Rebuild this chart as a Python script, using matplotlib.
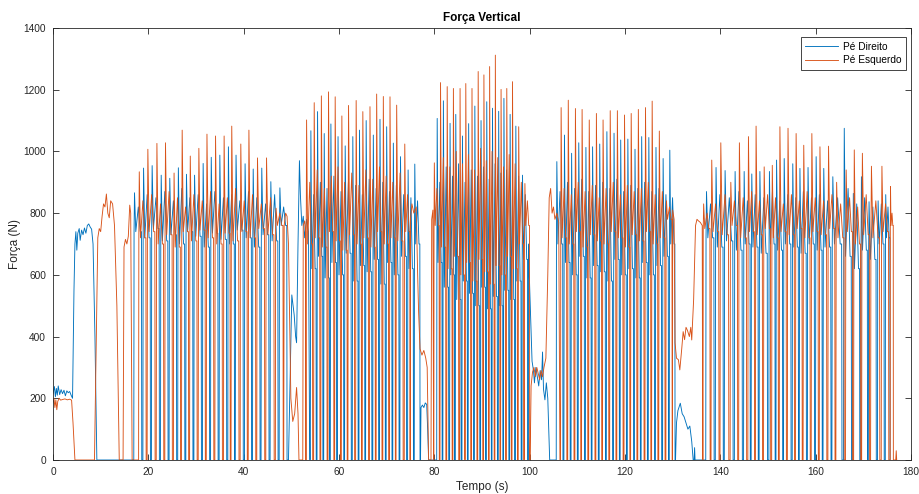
import matplotlib
matplotlib.use("Agg")
import matplotlib.pyplot as plt

plt.rcParams['font.family'] = ['Liberation Sans', 'DejaVu Sans']

# ---------------- data ----------------
x_ticks = [0, 20, 40, 60, 80, 100, 120, 140, 160, 180]
y_ticks = [0, 200, 400, 600, 800, 1000, 1200, 1400]
series_names = ["Pé Direito", "Pé Esquerdo"]

# --- Pé Esquerdo (orange): stride peak times, first peak, valley, second peak, bout end
esq_b1_t = [18.1, 19.9, 21.8, 23.6, 25.4, 27.1, 28.8, 30.6, 32.3, 34.1, 35.9, 37.5, 39.4, 41.1, 42.9, 44.8, 46.8]
esq_b1_p1 = [934, 1007, 1026, 1028, 930, 1069, 985, 1010, 1056, 1050, 1050, 1082, 1024, 1069, 979, 979, 816]
esq_b1_v = [720, 740, 700, 730, 690, 740, 710, 745, 720, 700, 735, 710, 740, 720, 750, 730, 760]
esq_b1_p2 = [840, 860, 830, 870, 850, 820, 860, 840, 870, 830, 850, 880, 840, 860, 830, 850, 800]

esq_b2_t = [53.2, 54.8, 56.3, 57.8, 59.2, 60.6, 62.0, 63.6, 65.0, 66.5, 67.9, 69.3, 70.7, 72.1, 73.8]
esq_b2_p1 = [1102, 1158, 1180, 1193, 1177, 1115, 1149, 1165, 1129, 1145, 1186, 1178, 1177, 1150, 1024]
esq_b2_v = [700, 720, 690, 740, 710, 680, 730, 700, 720, 690, 740, 700, 720, 710, 740]
esq_b2_p2 = [900, 940, 880, 920, 950, 900, 930, 890, 940, 910, 950, 920, 900, 930, 860]

esq_b3_t = [80.0, 81.3, 82.7, 84.0, 85.4, 86.6, 87.9, 89.2, 90.4, 91.6, 92.8, 94.0, 95.2, 96.4, 97.7, 99.0]
esq_b3_p1 = [963, 1223, 1210, 1204, 1204, 1220, 1204, 1259, 1248, 1275, 1312, 1201, 1204, 1226, 1080, 896]
esq_b3_v = [760, 690, 620, 660, 600, 640, 580, 650, 610, 570, 630, 600, 660, 620, 700, 760]
esq_b3_p2 = [880, 980, 950, 1000, 960, 990, 940, 1010, 970, 1000, 980, 950, 990, 960, 900, 840]

esq_b4_t = [106.6, 108.1, 109.6, 111.0, 112.5, 114.0, 115.4, 116.9, 118.4, 119.9, 121.3, 122.8, 124.3, 125.7, 127.2, 128.7]
esq_b4_p1 = [1142, 1166, 1139, 1136, 1102, 1123, 1102, 1132, 1132, 1118, 1123, 1136, 1142, 1163, 1066, 840]
esq_b4_v = [720, 700, 740, 690, 730, 710, 700, 740, 720, 690, 730, 710, 740, 700, 720, 780]
esq_b4_p2 = [880, 860, 900, 870, 890, 850, 880, 900, 860, 890, 870, 880, 900, 860, 870, 820]

esq_b5_t = [136.5, 138.2, 140.1, 142.2, 144.0, 145.9, 147.5, 149.2, 150.9, 152.5, 154.2, 155.9, 157.5, 159.2,
            160.9, 162.7, 164.4, 166.4, 168.1, 169.8, 171.7, 173.9, 175.7]
esq_b5_p1 = [830, 972, 1028, 900, 1028, 1048, 1082, 950, 955, 1080, 1075, 1058, 1020, 1058,
             1015, 1017, 900, 940, 1005, 994, 952, 952, 886]
esq_b5_v = [750, 740, 730, 760, 720, 740, 730, 750, 720, 740, 730, 750, 720, 740,
            730, 750, 720, 740, 700, 730, 720, 740, 760]
esq_b5_p2 = [800, 830, 860, 840, 850, 870, 840, 860, 850, 830, 860, 840, 870, 850,
             840, 860, 830, 850, 820, 860, 840, 830, 800]

esq_bout_end = [48.3, 74.9, 100.0, 129.9, 176.3]

# standing / transition stretches of the left foot: (time s, force N)
esq_static = [
    [(0, 185), (0.2, 200), (0.4, 170), (0.6, 195), (0.8, 163), (1.0, 190), (1.3, 200), (1.6, 194), (2.0, 196),
     (2.5, 198), (3.0, 195), (3.5, 197), (3.9, 194), (4.2, 120), (4.6, 0)],
    [(8.7, 0), (9.1, 400), (9.4, 720), (9.7, 750), (10.0, 740), (10.3, 790), (10.6, 830), (10.9, 820),
     (11.2, 862), (11.5, 800), (11.8, 785), (12.1, 840), (12.5, 830), (12.9, 760), (13.4, 500), (13.9, 0)],
    [(14.7, 0), (14.9, 690), (15.2, 715), (15.5, 700), (15.8, 725), (16.1, 826), (16.3, 800), (16.6, 0)],
    [(48.4, 0), (48.5, 760), (48.8, 800), (49.1, 790), (49.4, 700), (49.9, 200), (50.3, 125), (50.7, 150),
     (51.1, 235), (51.4, 150), (51.6, 0)],
    [(52.4, 0), (52.5, 760), (52.8, 775), (53.0, 740), (53.05, 0)],
    [(74.95, 0), (75.0, 780), (75.3, 830), (75.7, 800), (76.2, 820), (76.5, 600), (76.7, 480), (77.0, 360),
     (77.4, 340), (77.8, 355), (78.2, 330), (78.5, 300), (78.8, 0)],
    [(79.3, 0), (79.45, 780), (79.7, 810), (79.85, 0)],
    [(100.1, 0), (100.3, 240), (100.6, 285), (100.9, 300), (101.2, 270), (101.5, 300), (101.8, 280),
     (102.1, 260), (102.4, 290), (102.7, 270), (103.0, 300), (103.4, 330), (103.8, 600), (104.1, 850),
     (104.4, 880), (104.7, 800), (105.0, 820), (105.3, 780), (105.7, 800), (106.1, 770), (106.35, 0)],
    [(129.95, 0), (130.0, 810), (130.3, 780), (130.5, 380), (130.8, 330), (131.2, 325), (131.5, 292),
     (131.9, 360), (132.2, 416), (132.5, 390), (132.8, 430), (133.1, 420), (133.5, 400), (133.8, 430),
     (134.0, 389), (134.4, 520), (134.8, 760), (135.1, 780), (135.4, 775), (135.8, 770), (136.2, 760),
     (136.3, 0)],
    [(176.8, 0), (176.9, 30), (177.0, 0)],
]

# --- Pé Direito (blue)
dir_b1_t = [17.1, 19.0, 20.8, 22.7, 24.5, 26.3, 28.0, 29.7, 31.5, 33.2, 35.0, 36.8, 38.4, 40.3, 42.0, 43.8, 45.7, 47.6]
dir_b1_p1 = [866, 946, 954, 923, 913, 947, 926, 923, 961, 981, 988, 1015, 988, 960, 943, 946, 902, 882]
dir_b1_v = [740, 720, 750, 710, 730, 700, 740, 725, 690, 735, 715, 700, 745, 720, 690, 730, 710, 760]
dir_b1_p2 = [820, 860, 850, 870, 840, 880, 850, 860, 830, 870, 850, 860, 840, 870, 850, 830, 860, 820]

dir_b2_t = [54.1, 55.5, 56.9, 58.3, 59.8, 61.3, 62.9, 64.3, 65.7, 67.2, 68.6, 70.0, 71.4, 72.9, 74.5, 75.9]
dir_b2_p1 = [1067, 1129, 1058, 1089, 1048, 1018, 1048, 1069, 1100, 1053, 1104, 1080, 1027, 983, 940, 959]
dir_b2_v = [620, 660, 590, 640, 600, 670, 580, 630, 610, 650, 570, 640, 600, 660, 620, 700]
dir_b2_p2 = [860, 900, 880, 920, 870, 900, 890, 860, 910, 880, 900, 870, 890, 860, 850, 840]

dir_b3_t = [80.6, 81.9, 83.3, 84.5, 85.9, 87.2, 88.5, 89.8, 91.0, 92.2, 93.5, 94.6, 95.9, 97.1, 98.5]
dir_b3_p1 = [1107, 1164, 1091, 1120, 1050, 1090, 1147, 1100, 1161, 1140, 1130, 1172, 1120, 1082, 923]
dir_b3_v = [640, 560, 600, 520, 580, 540, 500, 560, 490, 530, 500, 550, 520, 580, 650]
dir_b3_p2 = [900, 950, 920, 960, 900, 940, 920, 950, 910, 960, 930, 940, 900, 920, 860]

dir_b4_t = [105.7, 107.3, 108.8, 110.3, 111.8, 113.2, 114.7, 116.2, 117.7, 119.1, 120.6, 122.1, 123.5, 125.0,
            126.5, 128.0, 129.4]
dir_b4_p1 = [967, 1053, 994, 1028, 1013, 1015, 1024, 1064, 1059, 1037, 1040, 1007, 1048, 1045, 1013, 977, 1004]
dir_b4_v = [700, 640, 600, 660, 590, 630, 610, 580, 650, 600, 620, 590, 640, 600, 630, 660, 700]
dir_b4_p2 = [870, 900, 880, 910, 870, 890, 900, 880, 910, 870, 890, 880, 900, 870, 880, 860, 850]

dir_b5_t = [137.1, 139.1, 141.0, 143.1, 145.0, 146.6, 148.3, 150.3, 151.8, 153.4, 155.2, 156.7, 158.4, 160.1,
            161.7, 163.6, 166.0, 167.9, 169.6, 171.2, 173.1, 174.7]
dir_b5_p1 = [870, 948, 938, 935, 935, 927, 935, 935, 972, 977, 960, 945, 948, 983, 945, 918, 1075, 864, 918,
             837, 840, 860]
dir_b5_v = [720, 690, 710, 680, 700, 690, 670, 700, 680, 700, 690, 670, 700, 680, 690, 700, 660, 620, 680,
            650, 700, 720]
dir_b5_p2 = [830, 860, 850, 870, 840, 860, 850, 870, 840, 860, 850, 870, 850, 860, 840, 850, 880, 830, 850,
             820, 830, 820]

dir_bout_end = [49.1, 77.0, 99.6, 130.5, 175.6]

dir_static = [
    [(0, 215), (0.3, 238), (0.5, 205), (0.7, 232), (0.9, 210), (1.1, 240), (1.4, 212), (1.7, 228), (2.0, 215),
     (2.3, 226), (2.6, 208), (2.9, 224), (3.2, 218), (3.5, 222), (3.8, 210), (4.1, 200), (4.4, 550), (4.6, 700),
     (4.8, 740), (5.0, 680), (5.2, 735), (5.5, 750), (5.7, 712), (6.0, 745), (6.3, 730), (6.6, 752), (6.9, 735),
     (7.2, 760), (7.5, 765), (7.8, 755), (8.1, 748), (8.4, 700), (8.8, 400), (9.2, 0)],
    [(49.4, 0), (49.8, 300), (50.1, 535), (50.3, 510), (50.6, 470), (50.9, 400), (51.1, 380), (51.4, 700),
     (51.7, 970), (51.9, 860), (52.2, 760), (52.5, 790), (52.8, 720), (53.2, 780), (53.6, 740), (53.85, 0)],
    [(77.1, 0), (77.2, 170), (77.5, 178), (77.8, 170), (78.1, 185), (78.4, 180), (78.6, 100), (78.8, 0)],
    [(99.7, 0), (99.75, 700), (100.0, 560), (100.3, 420), (100.5, 320), (100.8, 290), (101.0, 250), (101.3, 300),
     (101.6, 270), (101.9, 240), (102.2, 290), (102.5, 260), (102.7, 350), (102.9, 230), (103.2, 195),
     (103.5, 250), (103.8, 200), (104.2, 0)],
    [(130.6, 0), (130.8, 120), (131.1, 160), (131.6, 184), (132.0, 150), (132.4, 140), (132.8, 120), (133.2, 100),
     (133.6, 110), (134.0, 60), (134.3, 0), (134.5, 0), (134.6, 40), (134.7, 0)],
]

esq_bouts = [(esq_b1_t, esq_b1_p1, esq_b1_v, esq_b1_p2), (esq_b2_t, esq_b2_p1, esq_b2_v, esq_b2_p2),
             (esq_b3_t, esq_b3_p1, esq_b3_v, esq_b3_p2), (esq_b4_t, esq_b4_p1, esq_b4_v, esq_b4_p2),
             (esq_b5_t, esq_b5_p1, esq_b5_v, esq_b5_p2)]
dir_bouts = [(dir_b1_t, dir_b1_p1, dir_b1_v, dir_b1_p2), (dir_b2_t, dir_b2_p1, dir_b2_v, dir_b2_p2),
             (dir_b3_t, dir_b3_p1, dir_b3_v, dir_b3_p2), (dir_b4_t, dir_b4_p1, dir_b4_v, dir_b4_p2),
             (dir_b5_t, dir_b5_p1, dir_b5_v, dir_b5_p2)]

# stance shape: phase fractions of a stride (layout of each read stride)
STANCE_PHASE = [0.0, 0.03, 0.08, 0.22, 0.50, 0.72, 0.85, 0.88]


def build_series(bouts, bout_ends, statics):
    segments = [list(s) for s in statics]
    for (tp, p1, v, p2), t_end in zip(bouts, bout_ends):
        n = len(tp)
        for i in range(n):
            if i < n - 1:
                T = tp[i + 1] - tp[i]
            else:
                T = (t_end - tp[i]) / 0.80
            s = tp[i] - 0.08 * T
            vals = [0, v[i], p1[i], v[i], p2[i], v[i], v[i], 0]
            segments.append([(s + f * T, val) for f, val in zip(STANCE_PHASE, vals)])
    segments.sort(key=lambda seg: seg[0][0])
    t, y = [], []
    for seg in segments:
        for a, b in seg:
            t.append(a)
            y.append(b)
    return t, y


t_dir, f_dir = build_series(dir_bouts, dir_bout_end, dir_static)
t_esq, f_esq = build_series(esq_bouts, esq_bout_end, esq_static)

# ---------------- figure ----------------
fig = plt.figure(figsize=(9.19, 4.94), dpi=100)
ax = fig.add_axes([53 / 919, 34 / 494, 858 / 919, 432 / 494])

ax.plot(t_dir, f_dir, color='#0072BD', lw=0.65, label=series_names[0])
ax.plot(t_esq, f_esq, color='#D95319', lw=0.65, label=series_names[1])

ax.set_xlim(0, 180)
ax.set_ylim(0, 1400)
ax.set_xticks(x_ticks)
ax.set_yticks(y_ticks)
ax.tick_params(direction='in', length=4, width=0.6, top=True, right=True,
               labelsize=7.3, colors='#262626', pad=5)
for sp in ax.spines.values():
    sp.set_linewidth(0.6)
    sp.set_color('#262626')

ax.set_xlabel('Tempo (s)', fontsize=8.5, color='#262626', labelpad=3)
ax.set_ylabel('Força (N)', fontsize=8.5, color='#262626', labelpad=2)
ax.set_title('Força Vertical', fontsize=8.5, fontweight='bold', color='black', pad=5)

leg = ax.legend(loc='upper right', bbox_to_anchor=(0.9942, 0.979), borderaxespad=0,
                fontsize=7.3, handlelength=3.2, handletextpad=0.5, borderpad=0.45,
                labelspacing=0.35, fancybox=False, framealpha=1, edgecolor='#262626')
leg.get_frame().set_linewidth(0.6)

fig.savefig('out.png', dpi=100)
